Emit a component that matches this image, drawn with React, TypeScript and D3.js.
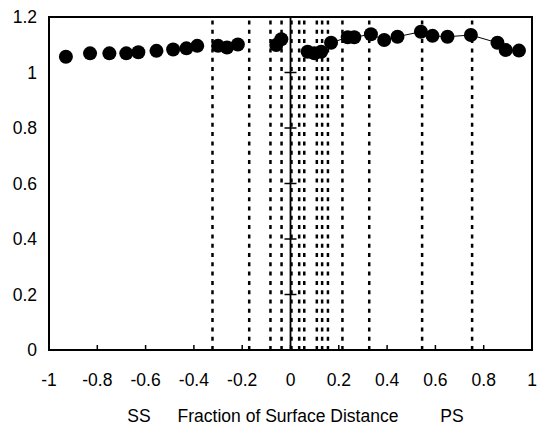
import React from "react";
import * as d3 from "d3";

const width = 538;
const height = 430;

// surface position (fraction of distance) and measured value
const posX = [
  -0.93, -0.83, -0.75, -0.68, -0.63, -0.555, -0.486, -0.431, -0.386, -0.3,
  -0.263, -0.218, -0.059, -0.038, 0.071, 0.099, 0.127, 0.168, 0.237, 0.264,
  0.333, 0.388, 0.443, 0.54, 0.588, 0.65, 0.747, 0.857, 0.891, 0.946,
];
const valY = [
  1.057, 1.069, 1.069, 1.069, 1.073, 1.078, 1.083, 1.087, 1.096, 1.096,
  1.09, 1.101, 1.099, 1.12, 1.075, 1.069, 1.075, 1.107, 1.127, 1.127,
  1.138, 1.117, 1.129, 1.147, 1.132, 1.129, 1.135, 1.107, 1.081, 1.079,
];
// dotted vertical markers
const markerX = [
  -0.323, -0.171, -0.083, -0.037, 0.004, 0.036, 0.057, 0.109, 0.131, 0.155,
  0.215, 0.326, 0.545, 0.752,
];
const xTicks = [-1, -0.8, -0.6, -0.4, -0.2, 0, 0.2, 0.4, 0.6, 0.8, 1];
const yTicks = [0, 0.2, 0.4, 0.6, 0.8, 1, 1.2];

const font = "Arial, 'Liberation Sans', sans-serif";
const fs = 17.5;

export default function App() {
  const x = d3.scaleLinear().domain([-1, 1]).range([49, 532]);
  const y = d3.scaleLinear().domain([0, 1.2]).range([350, 17]);
  const pts = posX.map((d, i) => [d, valY[i]] as [number, number]);
  // thin connecting line only shows on the PS side
  const psPts = pts.filter((p) => p[0] > 0);
  const line = d3
    .line<[number, number]>()
    .x((d) => x(d[0]))
    .y((d) => y(d[1]));

  return (
    <svg
      width={width}
      height={height}
      style={{ position: "absolute", left: 0, top: 0, background: "#fff" }}
    >
      <rect x={0} y={0} width={width} height={height} fill="#fff" />
      {markerX.map((m, i) => (
        <line
          key={"m" + i}
          x1={x(m)}
          x2={x(m)}
          y1={y(0)}
          y2={y(1.2)}
          stroke="#000"
          strokeWidth={2.5}
          strokeDasharray="4,5.3"
        />
      ))}
      {/* y axis at x = 0 */}
      <line x1={x(0)} x2={x(0)} y1={y(0)} y2={y(1.2)} stroke="#000" strokeWidth={1.8} />
      {yTicks.slice(1, -1).map((t) => (
        <line
          key={"yt" + t}
          x1={x(0) - 6}
          x2={x(0) + 6}
          y1={y(t)}
          y2={y(t)}
          stroke="#000"
          strokeWidth={1.5}
        />
      ))}
      {xTicks.slice(1, -1).map((t) => (
        <line
          key={"xt" + t}
          x1={x(t)}
          x2={x(t)}
          y1={y(0)}
          y2={y(0) - 5}
          stroke="#000"
          strokeWidth={1.5}
        />
      ))}
      <rect
        x={x(-1)}
        y={y(1.2)}
        width={x(1) - x(-1)}
        height={y(0) - y(1.2)}
        fill="none"
        stroke="#000"
        strokeWidth={2}
      />
      <path d={line(psPts) || ""} fill="none" stroke="#000" strokeWidth={1} />
      {pts.map((p, i) => (
        <circle key={"p" + i} cx={x(p[0])} cy={y(p[1])} r={7} fill="#000" />
      ))}
      {yTicks.map((t) => (
        <text
          key={"yl" + t}
          x={37}
          y={y(t)}
          dy="0.35em"
          textAnchor="end"
          fontFamily={font}
          fontSize={fs}
        >
          {t}
        </text>
      ))}
      {xTicks.map((t) => (
        <text
          key={"xl" + t}
          x={x(t)}
          y={380}
          dy="0.35em"
          textAnchor="middle"
          fontFamily={font}
          fontSize={fs}
        >
          {t}
        </text>
      ))}
      <text x={139} y={416} dy="0.35em" textAnchor="middle" fontFamily={font} fontSize={fs}>
        SS
      </text>
      <text x={288} y={416} dy="0.35em" textAnchor="middle" fontFamily={font} fontSize={fs}>
        Fraction of Surface Distance
      </text>
      <text x={452} y={416} dy="0.35em" textAnchor="middle" fontFamily={font} fontSize={fs}>
        PS
      </text>
    </svg>
  );
}
